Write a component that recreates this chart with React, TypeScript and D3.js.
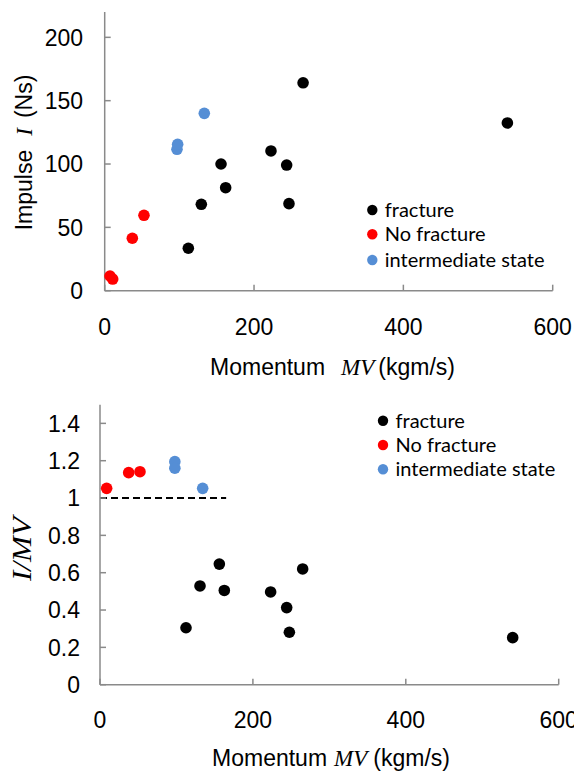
import React from "react";
import * as d3 from "d3";

// ---- Data: top panel (Impulse vs Momentum) ----
const fractureMV = [112, 129.4, 155.8, 162, 222.7, 243.7, 246.8, 265.7, 539.3];
const fractureI = [33.5, 68.2, 100.0, 81.3, 110.3, 99.2, 68.7, 164.1, 132.4];
const noFractureMV = [7.1, 10.7, 37.0, 52.6];
const noFractureI = [11.6, 9.2, 41.4, 59.5];
const intermediateMV = [96.8, 97.7, 133.4];
const intermediateI = [111.6, 115.6, 140.0];

// ---- Data: bottom panel (I/MV vs Momentum) ----
const fractureMV2 = [112.5, 130.8, 156.1, 162.6, 223.2, 244.2, 247.7, 265.1, 539.8];
const fractureRatio = [0.305, 0.529, 0.646, 0.505, 0.497, 0.413, 0.281, 0.62, 0.252];
const noFractureMV2 = [8.7, 37.5, 52.3];
const noFractureRatio = [1.052, 1.136, 1.141];
const intermediateMV2 = [97.9, 97.9, 134.3];
const intermediateRatio = [1.195, 1.16, 1.052];

const refLineMV = [0, 165];
const refLineRatio = 1;

const xTicks = [0, 200, 400, 600];
const yTicksTop = [0, 50, 100, 150, 200];
const yTicksBottom = [0, 0.2, 0.4, 0.6, 0.8, 1, 1.2, 1.4];

const legendLabels = ["fracture", "No fracture", "intermediate state"];
const colors = ["#000000", "#FF0000", "#558ED5"];

const AXIS = "#8a8a8a";
const SANS = "'Liberation Sans', Arial, sans-serif";
const SERIF = "'Liberation Serif', 'Times New Roman', serif";
const LEGEND_FONT = "Lato, 'Open Sans', sans-serif";

type Series = { xs: number[]; ys: number[]; color: string };

function Panel(props: {
  x: d3.ScaleLinear<number, number>;
  y: d3.ScaleLinear<number, number>;
  yTicks: number[];
  yFmt: (v: number) => string;
  yLabelX: number;
  xLabelY: number;
  series: Series[];
  legendX: number;
  legendYs: number[];
}) {
  const { x, y, yTicks, yFmt, yLabelX, xLabelY, series, legendX, legendYs } = props;
  const [x0, x1] = x.range();
  const [y0, y1] = y.range();
  const tl = 6;
  return (
    <g>
      {/* axes */}
      <line x1={x0} x2={x0} y1={y0} y2={y1} stroke={AXIS} strokeWidth={1.5} />
      <line x1={x0} x2={x1} y1={y0} y2={y0} stroke={AXIS} strokeWidth={1.5} />
      {yTicks.map((t) => (
        <g key={"yt" + t}>
          <line x1={x0} x2={x0 + tl} y1={y(t)} y2={y(t)} stroke={AXIS} strokeWidth={1.5} />
          <text x={yLabelX} y={y(t)} dy="0.36em" textAnchor="end" fontFamily={SANS} fontSize={23} fill="#000">
            {yFmt(t)}
          </text>
        </g>
      ))}
      {xTicks.map((t) => (
        <g key={"xt" + t}>
          <line x1={x(t)} x2={x(t)} y1={y0} y2={y0 - tl} stroke={AXIS} strokeWidth={1.5} />
          <text x={x(t)} y={xLabelY} dy="0.36em" textAnchor="middle" fontFamily={SANS} fontSize={23} fill="#000">
            {t}
          </text>
        </g>
      ))}
      {/* points */}
      {series.map((s, si) =>
        s.xs.map((v, i) => (
          <circle key={si + "-" + i} cx={x(v)} cy={y(s.ys[i])} r={5.8} fill={s.color} />
        ))
      )}
      {/* legend */}
      {legendLabels.map((lab, i) => (
        <g key={lab}>
          <circle cx={legendX} cy={legendYs[i]} r={5.2} fill={colors[i]} />
          <text x={legendX + 12.5} y={legendYs[i]} dy="0.35em" fontFamily={LEGEND_FONT} fontSize={20} fill="#000">
            {lab}
          </text>
        </g>
      ))}
    </g>
  );
}

export default function App() {
  const xTop = d3.scaleLinear().domain([0, 600]).range([104.7, 552.7]);
  const yTop = d3.scaleLinear().domain([0, 220]).range([290.7, 12.0]);
  const xBot = d3.scaleLinear().domain([0, 600]).range([100, 558.7]);
  const yBot = d3.scaleLinear().domain([0, 1.5]).range([684.7, 404.7]);

  const topSeries: Series[] = [
    { xs: fractureMV, ys: fractureI, color: colors[0] },
    { xs: noFractureMV, ys: noFractureI, color: colors[1] },
    { xs: intermediateMV, ys: intermediateI, color: colors[2] },
  ];
  const botSeries: Series[] = [
    { xs: fractureMV2, ys: fractureRatio, color: colors[0] },
    { xs: noFractureMV2, ys: noFractureRatio, color: colors[1] },
    { xs: intermediateMV2, ys: intermediateRatio, color: colors[2] },
  ];

  return (
    <svg
      width={574}
      height={771}
      style={{ position: "absolute", left: 0, top: 0, background: "#fff" }}
    >
      <rect width={574} height={771} fill="#fff" />
      <Panel
        x={xTop}
        y={yTop}
        yTicks={yTicksTop}
        yFmt={(v) => String(v)}
        yLabelX={83}
        xLabelY={327}
        series={topSeries}
        legendX={372.3}
        legendYs={[210, 234.3, 260]}
      />
      {/* top titles */}
      <text
        transform="translate(24,152.5) rotate(-90)"
        textAnchor="middle"
        dy="0.36em"
        fontFamily={SANS}
        fontSize={23}
        fill="#000"
      >
        <tspan>Impulse</tspan>
        <tspan fontFamily={SERIF} fontStyle="italic" dx="14">I</tspan>
        <tspan dx="10">(Ns)</tspan>
      </text>
      <text x={332.5} y={367} dy="0.36em" textAnchor="middle" fontFamily={SANS} fontSize={23} fill="#000">
        <tspan>Momentum</tspan>
        <tspan fontFamily={SERIF} fontStyle="italic" dx="16">MV</tspan>
        <tspan dx="4">(kgm/s)</tspan>
      </text>

      {/* bottom panel */}
      <line
        x1={xBot(refLineMV[0])}
        x2={xBot(refLineMV[1])}
        y1={yBot(refLineRatio)}
        y2={yBot(refLineRatio)}
        stroke="#000"
        strokeWidth={2}
        strokeDasharray="7,4"
      />
      <Panel
        x={xBot}
        y={yBot}
        yTicks={yTicksBottom}
        yFmt={(v) => d3.format("~g")(v)}
        yLabelX={80}
        xLabelY={720}
        series={botSeries}
        legendX={383}
        legendYs={[420.7, 445, 469.3]}
      />
      <text
        transform="translate(21,549) rotate(-90)"
        textAnchor="middle"
        dy="0.36em"
        fontFamily={SERIF}
        fontStyle="italic"
        fontSize={28}
        textLength={64}
        lengthAdjust="spacingAndGlyphs"
        fill="#000"
      >
        I/MV
      </text>
      <text x={331} y={758} dy="0.36em" textAnchor="middle" fontFamily={SANS} fontSize={23} fill="#000">
        <tspan>Momentum</tspan>
        <tspan fontFamily={SERIF} fontStyle="italic" dx="7">MV</tspan>
        <tspan dx="6">(kgm/s)</tspan>
      </text>
    </svg>
  );
}
